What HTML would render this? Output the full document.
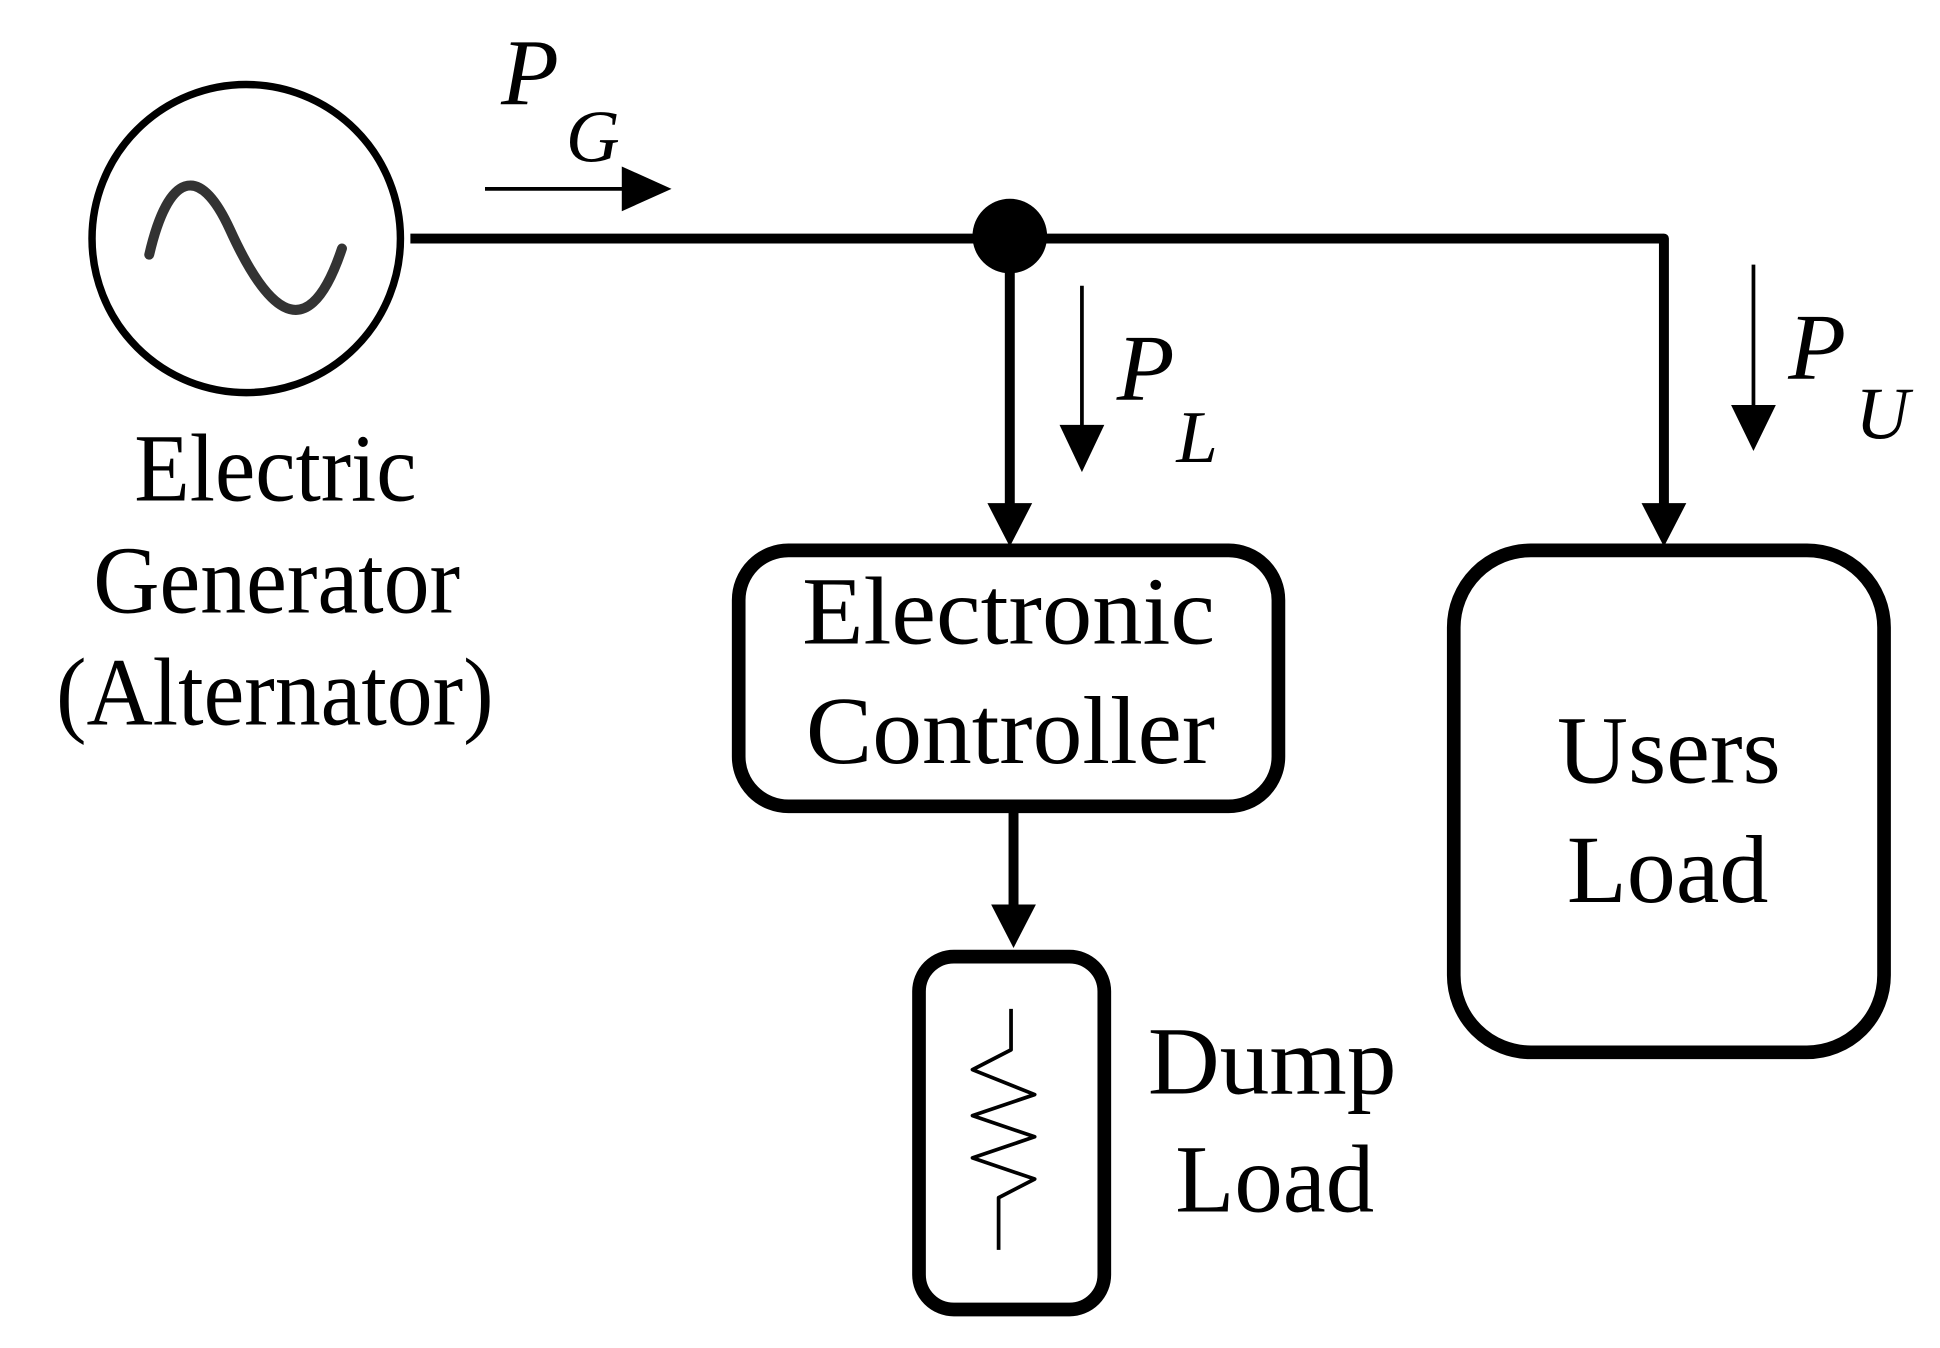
<!DOCTYPE html>
<html><head><meta charset="utf-8"><style>html,body{margin:0;padding:0;background:#fff}svg{display:block}</style></head>
<body>
<svg width="1940" height="1348" viewBox="0 0 1560 1085" preserveAspectRatio="none" xmlns="http://www.w3.org/2000/svg">
<g fill="none" stroke="#000" stroke-linejoin="round">
<circle cx="198" cy="192" r="124" stroke-width="6"/>
<path d="M120,205 C135,140 160,130 185,185 S 245,290 275,200" stroke="#333" stroke-width="8" stroke-linecap="round"/>
<path d="M330,192 H1338 V412" stroke-width="8"/>
<path d="M812,192 V412" stroke-width="8"/>
<path d="M815,652 V735" stroke-width="8"/>
<rect x="594" y="443" width="434" height="206" rx="40" stroke-width="11"/>
<rect x="1169" y="443" width="346" height="404" rx="62" stroke-width="11"/>
<rect x="739" y="770" width="149" height="284" rx="28" stroke-width="11"/>
<path d="M813,812 V845 L782,861 L832,881 L782,898 L832,915 L782,932 L832,949 L803,964 V1006" stroke-width="3"/>
<path d="M390,152 H505 M870,230 V345 M1410,213 V330" stroke-width="3"/>
</g>
<g fill="#000">
<circle cx="812" cy="190" r="30"/>
<polygon points="500,134 540,152 500,170"/>
<polygon points="852,342 888,342 870,380"/>
<polygon points="1392,326 1428,326 1410,363"/>
<polygon points="794,405 830,405 812,440"/>
<polygon points="1320,405 1356,405 1338,440"/>
<polygon points="797,728 833,728 815,763"/>
</g>
<g font-family="Liberation Serif, serif" font-size="78" fill="#000" lengthAdjust="spacingAndGlyphs">
<text x="108" y="403" textLength="227" lengthAdjust="spacingAndGlyphs">Electric</text>
<text x="75" y="493" textLength="295" lengthAdjust="spacingAndGlyphs">Generator</text>
<text x="45" y="583" textLength="352" lengthAdjust="spacingAndGlyphs">(Alternator)</text>
<text x="645" y="518" textLength="332" lengthAdjust="spacingAndGlyphs">Electronic</text>
<text x="648" y="614" textLength="329" lengthAdjust="spacingAndGlyphs">Controller</text>
<text x="1252" y="630" textLength="180" lengthAdjust="spacingAndGlyphs">Users</text>
<text x="1260" y="726" textLength="162" lengthAdjust="spacingAndGlyphs">Load</text>
<text x="923" y="880" textLength="200" lengthAdjust="spacingAndGlyphs">Dump</text>
<text x="945" y="975" textLength="160" lengthAdjust="spacingAndGlyphs">Load</text>
</g>
<g font-family="Liberation Serif, serif" font-style="italic" font-size="76" fill="#000">
<text x="403" y="84">P</text>
<text x="455" y="130" font-size="60">G</text>
<text x="898" y="322">P</text>
<text x="946" y="372" font-size="60">L</text>
<text x="1438" y="305">P</text>
<text x="1492" y="353" font-size="60">U</text>
</g>
</svg>
</body></html>
